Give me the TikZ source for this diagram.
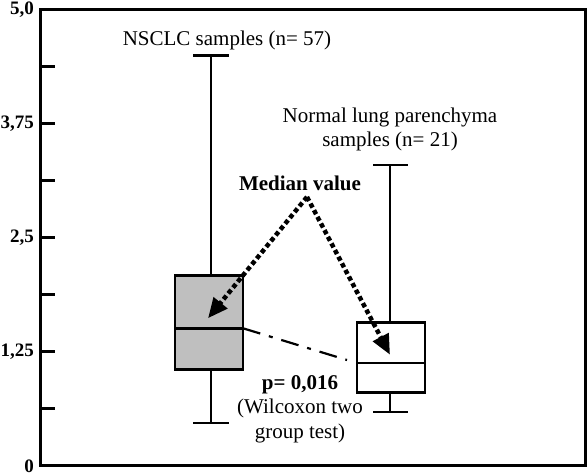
\documentclass[tikz,border=0pt]{standalone}
\usepackage{fontspec}
\setmainfont{Liberation Serif}
\usetikzlibrary{arrows.meta,positioning}

\begin{document}
\begin{tikzpicture}[
    x=1pt, y=91.2pt,
    axis/.style={line width=3pt},
    whisker/.style={line width=2.6pt},
    boxplot/.style={draw, line width=2.8pt},
    label/.style={font=\fontsize{21}{24.5}\selectfont, align=center, inner sep=0pt},
    ticklabel/.style={font=\fontsize{19}{20}\selectfont\bfseries, anchor=east, inner sep=0pt},
    medianarrow/.style={line width=4.5pt, dash pattern=on 4.5pt off 3pt, -{Triangle[length=20pt,width=17pt]}},
    pline/.style={line width=2.2pt, dash pattern=on 18pt off 9pt on 4pt off 9pt}
]
    \useasboundingbox (-41pt,-10pt) rectangle (546pt,466pt);

    % Frame and ticks
    \draw[axis] (0,0) rectangle (544,5);
    \foreach \v in {0.625,1.25,...,4.375} \draw[axis] (0,\v) -- (14,\v);
    \foreach \v/\t [count=\i] in {0/0, 1.25/{1,25}, 2.5/{2,5}, 3.75/{3,75}, 5/{5,0}}
        \node[ticklabel] (tick\i) at (-7,\v) {\t};

    % NSCLC samples
    \draw[whisker] (170,0.47) -- (170,4.5);
    \draw[whisker] (152,4.5) -- (188,4.5);
    \draw[whisker] (152,0.47) -- (188,0.47);
    \draw[boxplot, fill=black!25] (134,1.06) rectangle (202,2.09);
    \draw[boxplot] (134,1.51) -- (202,1.51);

    % Normal lung parenchyma samples
    \draw[whisker] (349,0.59) -- (349,3.30);
    \draw[whisker] (332,3.30) -- (367,3.30);
    \draw[whisker] (332,0.59) -- (367,0.59);
    \draw[boxplot, fill=white] (316,0.81) rectangle (384,1.57);
    \draw[boxplot] (316,1.13) -- (384,1.13);

    % Labels
    \node[label] (nsclc) at (186,4.67) {NSCLC samples (n= 57)};
    \node[label] (normal) at (349,3.69) {Normal lung parenchyma\\samples (n= 21)};
    \node[label, font=\fontsize{21}{24.5}\selectfont\bfseries] (median) at (259,3.10) {Median value};
    \node[label] (pvalue) at (259,0.625) {\textbf{p= 0,016}\\(Wilcoxon two\\group test)};

    % Median arrows and comparison line
    \coordinate (apex) at (266,2.95);
    \coordinate (med1) at (167,1.62);
    \coordinate (med2) at (349,1.22);
    \coordinate (m1) at (202,1.51);
    \coordinate (m2) at (306,1.162);
    \draw[medianarrow] (apex) -- (med1);
    \draw[medianarrow] (apex) -- (med2);
    \draw[pline] (m1) -- (m2);
\end{tikzpicture}
\end{document}
